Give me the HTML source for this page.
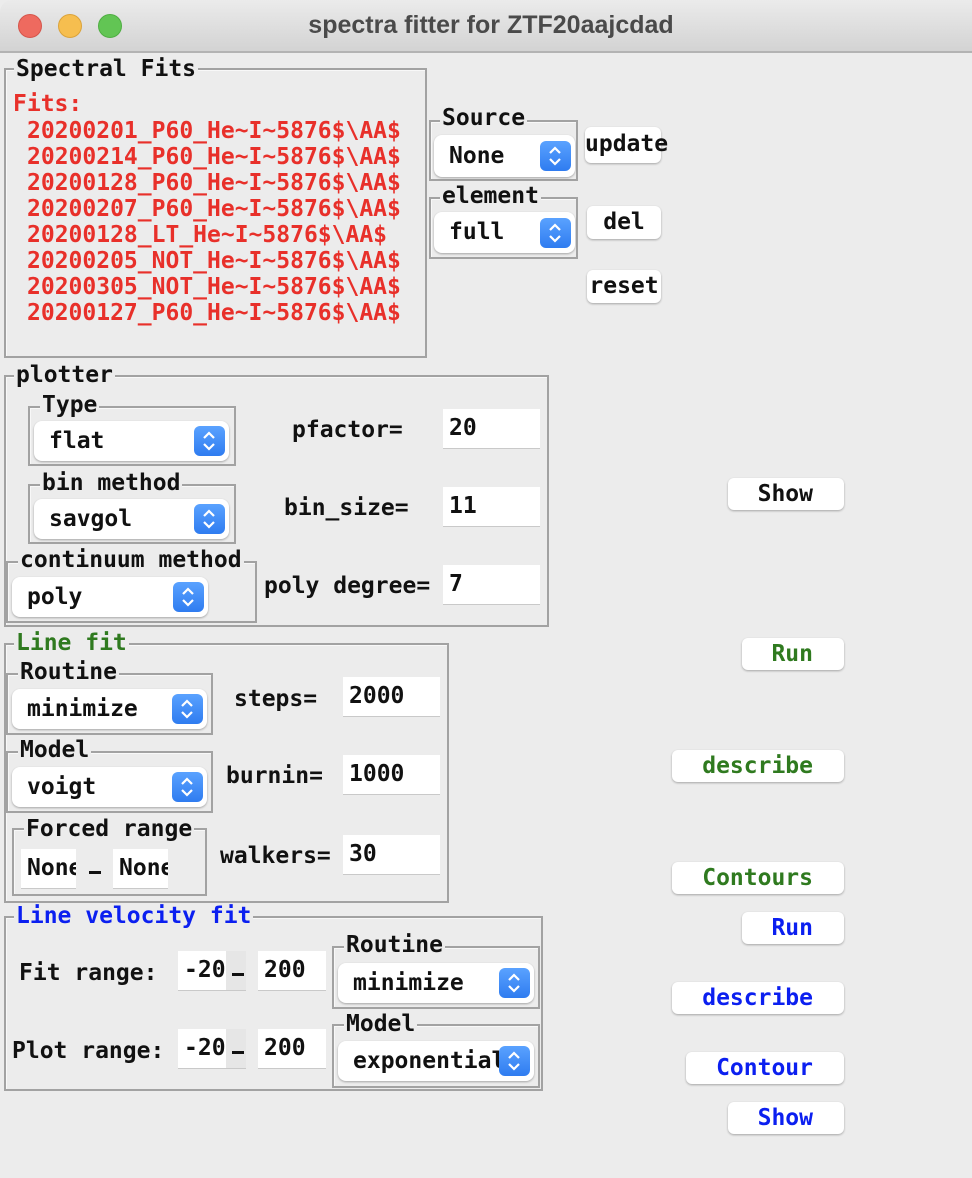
<!DOCTYPE html>
<html><head><meta charset="utf-8">
<style>
*{box-sizing:border-box;margin:0;padding:0}
body{width:972px;height:1178px;background:#ececec;position:relative;overflow:hidden;font-family:"DejaVu Sans Mono","Liberation Mono",monospace;font-weight:bold;font-size:23px;color:#111}
.tb{position:absolute;left:0;top:0;width:972px;height:53px;background:linear-gradient(#ebebeb,#d3d3d3);border-bottom:2px solid #b3b3b3;border-top-left-radius:12px}
.dot{position:absolute;top:14px;width:24px;height:24px;border-radius:50%}
.title{position:absolute;left:0;width:982px;top:11px;text-align:center;font-family:"Liberation Sans",sans-serif;font-size:25px;color:#4a4a4a;font-weight:bold}
.f{position:absolute;border:2px solid #a2a2a2;box-shadow:inset 1px 1px 0 #f8f8f8}
.l{position:absolute;background:#ececec;padding:0 2px;line-height:24px;white-space:pre}
.t{position:absolute;line-height:24px;white-space:pre}
.c{position:absolute;background:#fff;border-radius:8px;box-shadow:0 1px 2px rgba(0,0,0,.3);padding-left:15px;white-space:pre;overflow:hidden}
.c .a{position:absolute;right:4px;top:50%;margin-top:-15px;width:31px;height:30px;border-radius:6px;background:linear-gradient(#5aa2ff,#2f7cf0)}
.c .a svg{position:absolute;left:7px;top:4px}
.e{position:absolute;background:#fff;border-bottom:1px solid #c9c9c9;padding-left:6px;white-space:pre;overflow:hidden}
.b{position:absolute;background:#fff;border-radius:6px;box-shadow:0 1px 2px rgba(0,0,0,.3);text-align:right;padding-right:31px;white-space:pre}
.d{position:absolute;height:3px;width:12px;background:#111}
.red{color:#e8302a}.grn{color:#2f7a1f}.blu{color:#0b1ff0}
</style></head><body>
<div class="tb"></div>
<div class="dot" style="left:18px;background:#ee6a5f;border:1px solid #d5554b"></div>
<div class="dot" style="left:58px;background:#f6be4f;border:1px solid #dba33a"></div>
<div class="dot" style="left:98px;background:#62c554;border:1px solid #4fae42"></div>
<div class="title">spectra fitter for ZTF20aajcdad</div>

<div class="f" style="left:4px;top:68px;width:423px;height:290px"></div>
<div class="l" style="left:14px;top:57px">Spectral Fits</div>
<div class="t red" style="left:13px;top:92px">Fits:</div>
<div class="t red" style="left:27px;top:118px;line-height:26px">20200201_P60_He~I~5876$\AA$
20200214_P60_He~I~5876$\AA$
20200128_P60_He~I~5876$\AA$
20200207_P60_He~I~5876$\AA$
20200128_LT_He~I~5876$\AA$
20200205_NOT_He~I~5876$\AA$
20200305_NOT_He~I~5876$\AA$
20200127_P60_He~I~5876$\AA$</div>

<div class="f" style="left:429px;top:120px;width:149px;height:61px"></div>
<div class="l" style="left:440px;top:106px">Source</div>
<div class="c" style="left:434px;top:135px;width:141px;height:42px;line-height:42px">None<span class="a"><svg width="16" height="22"><path d="M3 8 L8 3 L13 8 M3 14 L8 19 L13 14" stroke="#fff" stroke-width="2.2" fill="none"/></svg></span></div>
<div class="f" style="left:429px;top:197px;width:149px;height:62px"></div>
<div class="l" style="left:440px;top:184px">element</div>
<div class="c" style="left:434px;top:212px;width:141px;height:41px;line-height:41px">full<span class="a"><svg width="16" height="22"><path d="M3 8 L8 3 L13 8 M3 14 L8 19 L13 14" stroke="#fff" stroke-width="2.2" fill="none"/></svg></span></div>
<div class="b" style="left:585px;top:127px;width:76px;height:36px;line-height:34px;padding-right:0;text-align:center">update</div>
<div class="b" style="left:587px;top:206px;width:74px;height:33px;line-height:33px;padding-right:0;text-align:center">del</div>
<div class="b" style="left:587px;top:270px;width:74px;height:33px;line-height:33px;padding-right:0;text-align:center">reset</div>

<div class="f" style="left:4px;top:375px;width:545px;height:252px"></div>
<div class="l" style="left:14px;top:363px">plotter</div>
<div class="f" style="left:28px;top:406px;width:208px;height:60px"></div>
<div class="l" style="left:40px;top:393px">Type</div>
<div class="c" style="left:34px;top:421px;width:195px;height:40px;line-height:40px">flat<span class="a"><svg width="16" height="22"><path d="M3 8 L8 3 L13 8 M3 14 L8 19 L13 14" stroke="#fff" stroke-width="2.2" fill="none"/></svg></span></div>
<div class="f" style="left:28px;top:484px;width:208px;height:60px"></div>
<div class="l" style="left:40px;top:471px">bin method</div>
<div class="c" style="left:34px;top:499px;width:195px;height:40px;line-height:40px">savgol<span class="a"><svg width="16" height="22"><path d="M3 8 L8 3 L13 8 M3 14 L8 19 L13 14" stroke="#fff" stroke-width="2.2" fill="none"/></svg></span></div>
<div class="f" style="left:6px;top:561px;width:251px;height:62px"></div>
<div class="l" style="left:18px;top:548px">continuum method</div>
<div class="c" style="left:12px;top:577px;width:196px;height:40px;line-height:40px">poly<span class="a"><svg width="16" height="22"><path d="M3 8 L8 3 L13 8 M3 14 L8 19 L13 14" stroke="#fff" stroke-width="2.2" fill="none"/></svg></span></div>
<div class="t" style="left:292px;top:418px">pfactor=</div>
<div class="t" style="left:284px;top:496px">bin_size=</div>
<div class="t" style="left:264px;top:574px">poly degree=</div>
<div class="e" style="left:443px;top:409px;width:97px;height:40px;line-height:38px">20</div>
<div class="e" style="left:443px;top:487px;width:97px;height:40px;line-height:38px">11</div>
<div class="e" style="left:443px;top:565px;width:97px;height:40px;line-height:38px">7</div>
<div class="b" style="left:728px;top:478px;width:116px;height:32px;line-height:32px">Show</div>

<div class="f" style="left:4px;top:643px;width:445px;height:260px"></div>
<div class="l grn" style="left:14px;top:631px">Line fit</div>
<div class="f" style="left:6px;top:673px;width:207px;height:62px"></div>
<div class="l" style="left:18px;top:660px">Routine</div>
<div class="c" style="left:12px;top:689px;width:195px;height:40px;line-height:40px">minimize<span class="a"><svg width="16" height="22"><path d="M3 8 L8 3 L13 8 M3 14 L8 19 L13 14" stroke="#fff" stroke-width="2.2" fill="none"/></svg></span></div>
<div class="f" style="left:6px;top:751px;width:207px;height:62px"></div>
<div class="l" style="left:18px;top:738px">Model</div>
<div class="c" style="left:12px;top:767px;width:195px;height:40px;line-height:40px">voigt<span class="a"><svg width="16" height="22"><path d="M3 8 L8 3 L13 8 M3 14 L8 19 L13 14" stroke="#fff" stroke-width="2.2" fill="none"/></svg></span></div>
<div class="f" style="left:12px;top:828px;width:195px;height:68px"></div>
<div class="l" style="left:24px;top:817px">Forced range</div>
<div class="e" style="left:21px;top:849px;width:55px;height:40px;line-height:38px">None</div>
<div class="d" style="left:89px;top:871px"></div>
<div class="e" style="left:113px;top:849px;width:55px;height:40px;line-height:38px">None</div>
<div class="t" style="left:234px;top:687px">steps=</div>
<div class="t" style="left:226px;top:764px">burnin=</div>
<div class="t" style="left:220px;top:844px">walkers=</div>
<div class="e" style="left:343px;top:677px;width:97px;height:40px;line-height:38px">2000</div>
<div class="e" style="left:343px;top:755px;width:97px;height:40px;line-height:38px">1000</div>
<div class="e" style="left:343px;top:835px;width:97px;height:40px;line-height:38px">30</div>
<div class="b grn" style="left:742px;top:638px;width:102px;height:32px;line-height:32px">Run</div>
<div class="b grn" style="left:672px;top:750px;width:172px;height:32px;line-height:32px">describe</div>
<div class="b grn" style="left:672px;top:862px;width:172px;height:32px;line-height:32px">Contours</div>

<div class="f" style="left:4px;top:916px;width:539px;height:175px"></div>
<div class="l blu" style="left:14px;top:904px">Line velocity fit</div>
<div class="t" style="left:19px;top:961px">Fit range:</div>
<div class="t" style="left:12px;top:1039px">Plot range:</div>
<div class="e" style="left:178px;top:951px;width:68px;height:40px;line-height:38px;background:linear-gradient(90deg,#fff 48px,#e6e6e6 48px)">-20</div>
<div class="d" style="left:232px;top:973px"></div>
<div class="e" style="left:258px;top:951px;width:68px;height:40px;line-height:38px">200</div>
<div class="e" style="left:178px;top:1029px;width:68px;height:40px;line-height:38px;background:linear-gradient(90deg,#fff 48px,#e6e6e6 48px)">-20</div>
<div class="d" style="left:232px;top:1051px"></div>
<div class="e" style="left:258px;top:1029px;width:68px;height:40px;line-height:38px">200</div>
<div class="f" style="left:332px;top:946px;width:208px;height:63px"></div>
<div class="l" style="left:344px;top:933px">Routine</div>
<div class="c" style="left:338px;top:963px;width:196px;height:40px;line-height:40px">minimize<span class="a"><svg width="16" height="22"><path d="M3 8 L8 3 L13 8 M3 14 L8 19 L13 14" stroke="#fff" stroke-width="2.2" fill="none"/></svg></span></div>
<div class="f" style="left:332px;top:1024px;width:208px;height:64px"></div>
<div class="l" style="left:344px;top:1012px">Model</div>
<div class="c" style="left:338px;top:1041px;width:196px;height:40px;line-height:40px">exponential<span class="a"><svg width="16" height="22"><path d="M3 8 L8 3 L13 8 M3 14 L8 19 L13 14" stroke="#fff" stroke-width="2.2" fill="none"/></svg></span></div>
<div class="b blu" style="left:742px;top:912px;width:102px;height:32px;line-height:32px">Run</div>
<div class="b blu" style="left:672px;top:982px;width:172px;height:32px;line-height:32px">describe</div>
<div class="b blu" style="left:686px;top:1052px;width:158px;height:32px;line-height:32px">Contour</div>
<div class="b blu" style="left:728px;top:1102px;width:116px;height:32px;line-height:32px">Show</div>
</body></html>
